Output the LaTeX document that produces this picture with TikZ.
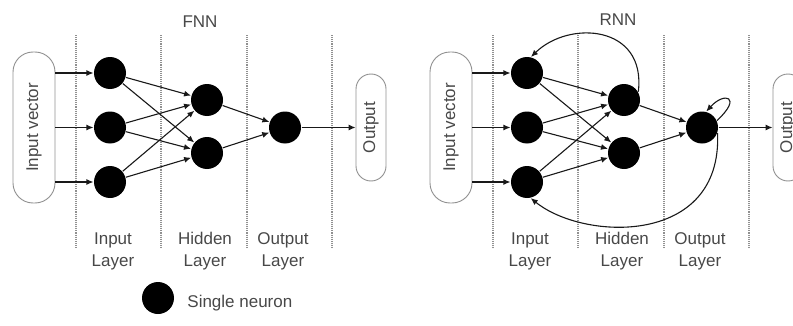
\documentclass[tikz,border=0pt]{standalone}
\usepackage{fontspec}
\setmainfont{Liberation Sans}
\usetikzlibrary{arrows.meta}
\definecolor{grisTexto}{HTML}{484848}
\definecolor{grisLinea}{HTML}{909090}

\begin{document}
\begin{tikzpicture}[x=1pt, y=1pt, node distance=54.5pt, >={Latex[length=7pt,width=6pt]}, line width=1.1pt, font=\fontsize{17}{22}\selectfont]
        % Definición de estilos
        \tikzstyle{nodoNeurona} = [circle, fill=black, inner sep=0pt, minimum size=32pt]
        \tikzstyle{nodoCaja} = [draw=grisLinea, rectangle, rounded corners=15pt, text=grisTexto, line width=0.9pt, inner sep=0pt]
        \tikzstyle{textoCapa} = [text=grisTexto, align=center]
        \tikzstyle{lineaCapa} = [grisLinea, densely dotted, line width=1.1pt]
        \tikzstyle{flecha} = [->, black!90]

        \useasboundingbox (0,0) rectangle (793,325);

        % Separadores de capas
        \draw[lineaCapa] (76,290) -- (76,77) (161,290) -- (161,77) (247,290) -- (247,77) (332,290) -- (332,77);
        \draw[lineaCapa] (493,290) -- (493,77) (578,290) -- (578,77) (664,290) -- (664,77) (749,290) -- (749,77);

        % Red FNN
        \node[textoCapa] (fTitulo) at (200,303) {FNN};
        \node[nodoCaja, rounded corners=20pt, minimum width=42pt, minimum height=151pt] (fCajaEntrada) at (34,197.5) {\rotatebox{90}{Input vector}};
        \node[nodoNeurona] (fEntrada1) at (110,252) {};
        \node[nodoNeurona, below of=fEntrada1] (fEntrada2) {};
        \node[nodoNeurona, below of=fEntrada2] (fEntrada3) {};
        \node[nodoNeurona] (fOculta1) at (207,225) {};
        \node[nodoNeurona, below of=fOculta1, yshift=1.5pt] (fOculta2) {};
        \node[nodoNeurona] (fSalida) at (285,197.5) {};
        \node[nodoCaja, minimum width=30pt, minimum height=107pt] (fCajaSalida) at (371,197.5) {\rotatebox{90}{Output}};

        \draw[flecha] (fCajaEntrada.east |- fEntrada1) -- (fEntrada1);
        \draw[flecha] (fCajaEntrada.east |- fEntrada2) -- (fEntrada2);
        \draw[flecha] (fCajaEntrada.east |- fEntrada3) -- (fEntrada3);
        \draw[flecha] (fEntrada1) -- (fOculta1);
        \draw[flecha] (fEntrada1) -- (fOculta2);
        \draw[flecha] (fEntrada2) -- (fOculta1);
        \draw[flecha] (fEntrada2) -- (fOculta2);
        \draw[flecha] (fEntrada3) -- (fOculta1);
        \draw[flecha] (fEntrada3) -- (fOculta2);
        \draw[flecha] (fOculta1) -- (fSalida);
        \draw[flecha] (fOculta2) -- (fSalida);
        \draw[flecha] (fSalida) -- (fCajaSalida);

        \node[textoCapa] (fCapaEntrada) at (113,74) {Input\\Layer};
        \node[textoCapa] (fCapaOculta) at (205,74) {Hidden\\Layer};
        \node[textoCapa] (fCapaSalida) at (283,74) {Output\\Layer};

        % Red RNN
        \node[textoCapa] (rTitulo) at (618,305) {RNN};
        \node[nodoCaja, rounded corners=20pt, minimum width=42pt, minimum height=151pt] (rCajaEntrada) at (451,197.5) {\rotatebox{90}{Input vector}};
        \node[nodoNeurona] (rEntrada1) at (527,252) {};
        \node[nodoNeurona, below of=rEntrada1] (rEntrada2) {};
        \node[nodoNeurona, below of=rEntrada2] (rEntrada3) {};
        \node[nodoNeurona] (rOculta1) at (624,225) {};
        \node[nodoNeurona, below of=rOculta1, yshift=1.5pt] (rOculta2) {};
        \node[nodoNeurona] (rSalida) at (702,197.5) {};
        \node[nodoCaja, minimum width=30pt, minimum height=107pt] (rCajaSalida) at (788,197.5) {\rotatebox{90}{Output}};

        \draw[flecha] (rCajaEntrada.east |- rEntrada1) -- (rEntrada1);
        \draw[flecha] (rCajaEntrada.east |- rEntrada2) -- (rEntrada2);
        \draw[flecha] (rCajaEntrada.east |- rEntrada3) -- (rEntrada3);
        \draw[flecha] (rEntrada1) -- (rOculta1);
        \draw[flecha] (rEntrada1) -- (rOculta2);
        \draw[flecha] (rEntrada2) -- (rOculta1);
        \draw[flecha] (rEntrada2) -- (rOculta2);
        \draw[flecha] (rEntrada3) -- (rOculta1);
        \draw[flecha] (rEntrada3) -- (rOculta2);
        \draw[flecha] (rOculta1) -- (rSalida);
        \draw[flecha] (rOculta2) -- (rSalida);
        \draw[flecha] (rSalida) -- (rCajaSalida);

        % Conexiones recurrentes
        \draw[flecha] (rOculta1.30) .. controls +(8,67) and +(38,37) .. (rEntrada1.76);
        \draw[flecha] (rSalida.25) .. controls +(26,24) and +(18,20) .. (rSalida.75);
        \draw[flecha] (rSalida.-20) .. controls +(5,-113) and +(53,-43) .. (rEntrada3.-77);

        \node[textoCapa] (rCapaEntrada) at (530,74) {Input\\Layer};
        \node[textoCapa] (rCapaOculta) at (622,74) {Hidden\\Layer};
        \node[textoCapa] (rCapaSalida) at (700,74) {Output\\Layer};

        % Leyenda
        \node[nodoNeurona] (leyenda) at (158,27) {};
        \node[textoCapa, anchor=west, xshift=9pt, yshift=-5pt] (leyendaTexto) at (leyenda.east) {Single neuron};
    \end{tikzpicture}
\end{document}
